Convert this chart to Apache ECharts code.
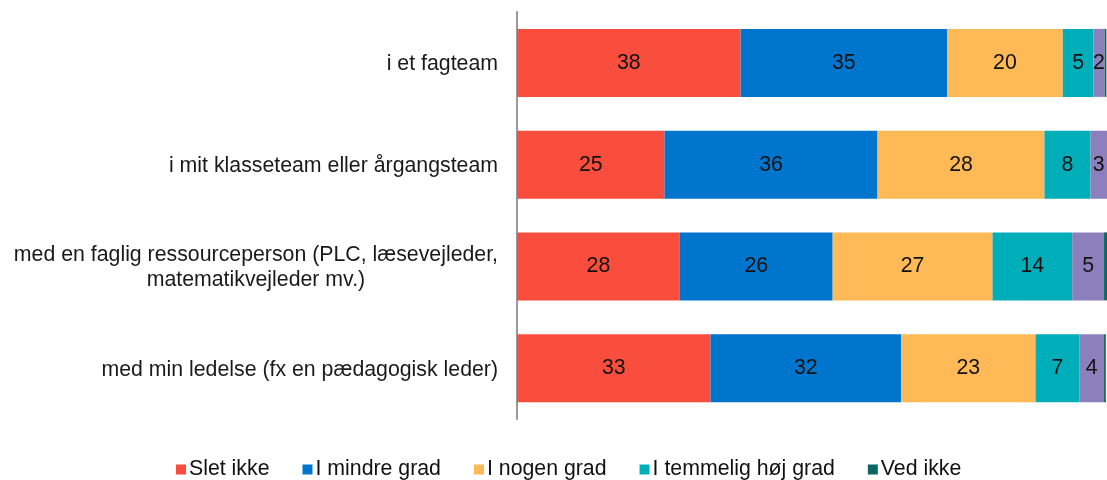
<!DOCTYPE html>
<html>
<head>
<meta charset="utf-8">
<script src="https://cdn.jsdelivr.net/npm/echarts@6/dist/echarts.min.js"></script>
<style>
html,body{margin:0;padding:0;background:#fff;}
#chart{width:1107px;height:480px;}
</style>
</head>
<body>
<div id="chart"></div>
<script>
const categories = [
  'i et fagteam',
  'i mit klasseteam eller årgangsteam',
  'med en faglig ressourceperson (PLC, læsevejleder,\nmatematikvejleder mv.)',
  'med min ledelse (fx en pædagogisk leder)'
];
const sletIkke      = [37.9, 25.0, 27.6, 32.8];
const iMindreGrad   = [35.0, 36.1, 25.9, 32.3];
const iNogenGrad    = [19.6, 28.3, 27.1, 22.8];
const iTemmeligHoej = [5.2, 7.8, 13.5, 7.4];
const iHoejGrad     = [1.9, 2.9, 5.4, 4.2];
const vedIkke       = [0.3, 0.0, 0.5, 0.3];

const legendNames = ['Slet ikke', 'I mindre grad', 'I nogen grad', 'I temmelig høj grad', 'Ved ikke'];

const seriesDefs = [
  {name: 'Slet ikke', data: sletIkke, color: '#F94E3D', label: true},
  {name: 'I mindre grad', data: iMindreGrad, color: '#0075CE', label: true},
  {name: 'I nogen grad', data: iNogenGrad, color: '#FFB957', label: true},
  {name: 'I temmelig høj grad', data: iTemmeligHoej, color: '#00AEB9', label: true},
  {name: 'I høj grad', data: iHoejGrad, color: '#8B80BB', label: true},
  {name: 'Ved ikke', data: vedIkke, color: '#0C6661', label: false}
];

const chart = echarts.init(document.getElementById('chart'), null, {renderer: 'canvas'});
const FONT = '"Liberation Sans", Arial, sans-serif';
const FS = 21.3;

chart.setOption({
  animation: false,
  backgroundColor: '#ffffff',
  textStyle: {fontFamily: FONT},
  grid: {left: 517, right: 0, top: 12, bottom: 61, containLabel: false},
  xAxis: {
    type: 'value', min: 0, max: 100,
    show: false
  },
  yAxis: {
    type: 'category',
    data: categories,
    inverse: true,
    axisLine: {show: true, lineStyle: {color: '#9a9a9a', width: 2}},
    axisTick: {show: false},
    splitLine: {show: false},
    axisLabel: {
      margin: 19,
      align: 'right',
      formatter: function (v) {
        return v.split('\n').map(function (s) { return '{c|' + s + '}'; }).join('\n');
      },
      rich: {
        c: {align: 'center', fontSize: FS, color: '#1a1a1a', fontFamily: FONT, lineHeight: 25, padding: [3, 0, 0, 0]}
      }
    }
  },
  legend: {
    data: legendNames,
    left: 176,
    top: 459,
    padding: 0,
    icon: 'rect',
    itemWidth: 10,
    itemHeight: 10,
    itemGap: 33,
    textStyle: {fontSize: FS, color: '#111111', fontFamily: FONT, padding: [0, 0, 0, -2]}
  },
  series: seriesDefs.map(function (s) {
    return {
      name: s.name,
      type: 'bar',
      stack: 'total',
      barWidth: 68,
      data: s.data,
      itemStyle: {color: s.color},
      label: {
        show: s.label,
        position: 'inside',
        fontSize: FS,
        color: '#111111',
        fontFamily: FONT,
        formatter: function (p) { return Math.round(p.value); }
      }
    };
  })
});
</script>
</body>
</html>
